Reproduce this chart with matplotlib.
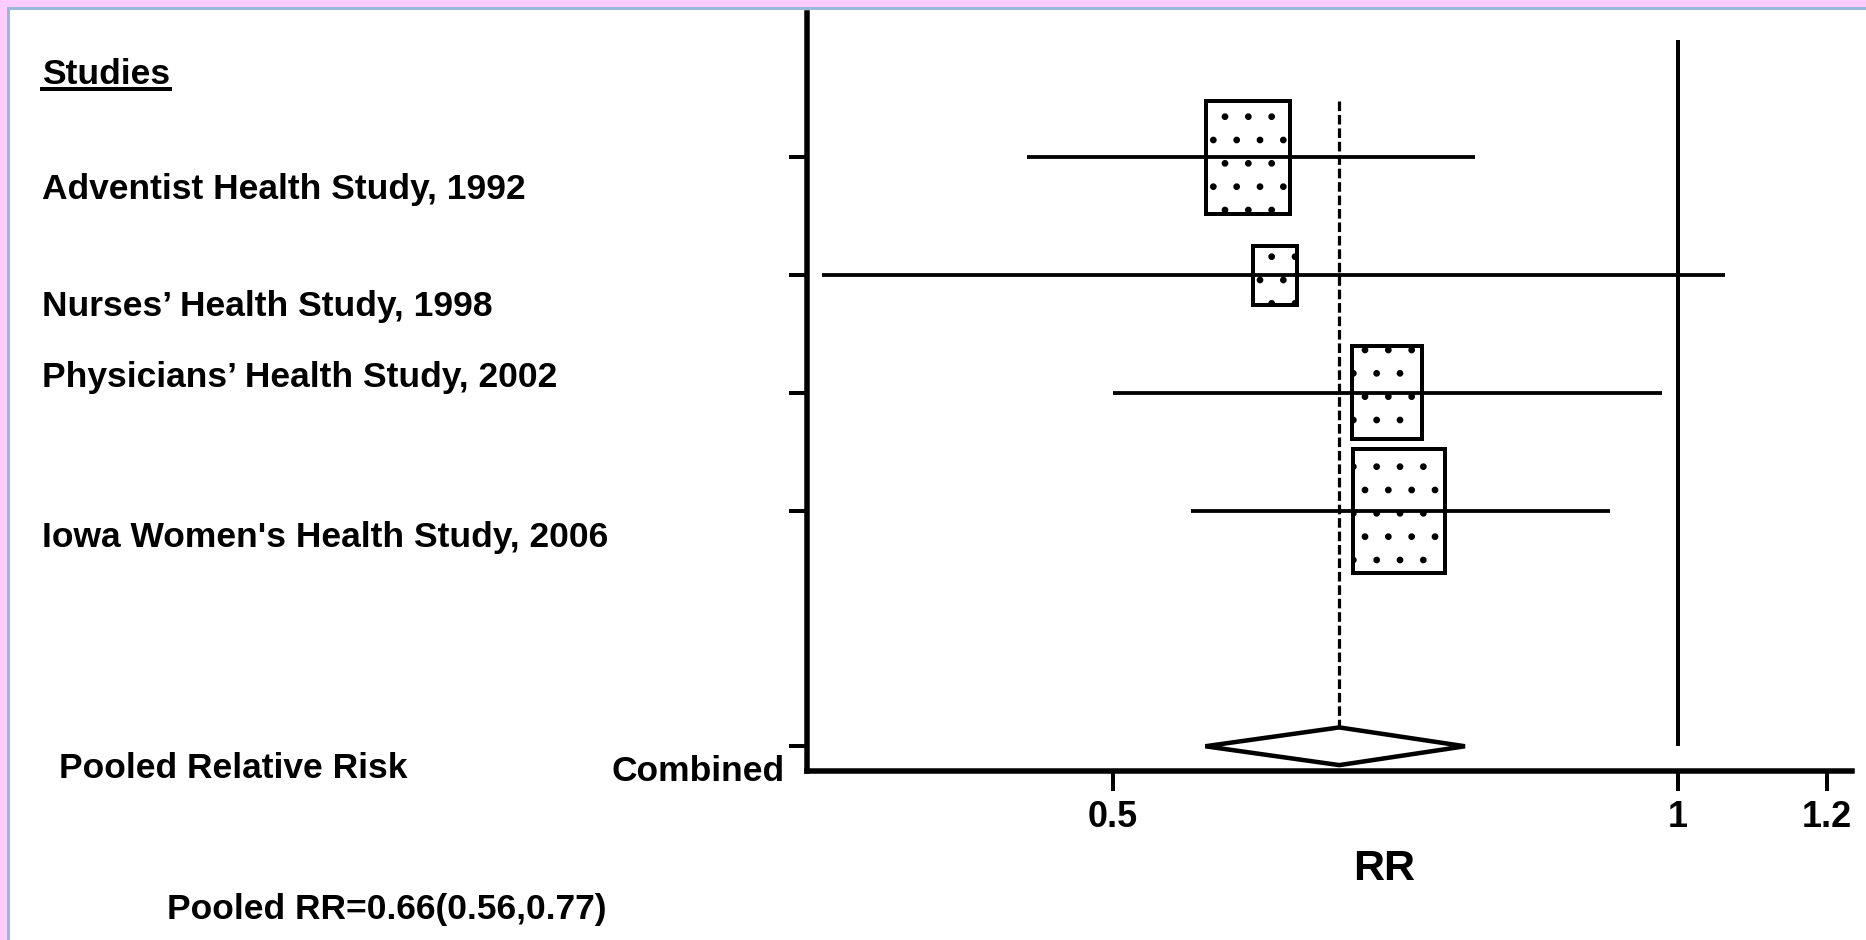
import numpy as np
import matplotlib
matplotlib.use("Agg")
import matplotlib.pyplot as plt
from matplotlib.patches import Rectangle, Polygon
from matplotlib.lines import Line2D
from matplotlib.transforms import ScaledTranslation

# ---------------- data ----------------
studies = ["Adventist Health Study, 1992",
           "Nurses\u2019 Health Study, 1998",
           "Physicians\u2019 Health Study, 2002",
           "Iowa Women's Health Study, 2006"]
rr = [0.59, 0.61, 0.70, 0.71]
ci_low = [0.45, 0.35, 0.50, 0.55]
ci_high = [0.78, 1.06, 0.98, 0.92]
weights = [0.96, 0.50, 0.79, 1.05]        # relative box size (study weight)
pooled_rr = 0.66
pooled_low = 0.56
pooled_high = 0.77
null_value = 1.0
xticks = [0.5, 1, 1.2]
xtick_labels = ["0.5", "1", "1.2"]
combined_label = "Combined"
header = "Studies"
pooled_title = "Pooled Relative Risk"
pooled_text = "Pooled RR=0.66(0.56,0.77)"
x_label = "RR"

# ---------------- style ----------------
DPI = 140                     # larger dpi -> sparser hatch dots


def P(px):
    """pixel size -> points at this dpi"""
    return px * 72.0 / DPI


FONT = 35.4                   # font em size in pixels
plt.rcParams["font.family"] = ["Liberation Sans", "DejaVu Sans"]
plt.rcParams["font.weight"] = "bold"
plt.rcParams["hatch.linewidth"] = P(2.0)

W, H = 1866, 940
fig = plt.figure(figsize=(W / DPI, H / DPI), dpi=DPI, facecolor="white")

# frame decoration (pink band + blue line on top and left)
pink = "#FFCCFF"
blue = "#9AB8DC"
fig.patches.append(Rectangle((0, 1 - 7 / H), 1, 7 / H, transform=fig.transFigure,
                             facecolor=pink, edgecolor="none", zorder=0))
fig.patches.append(Rectangle((0, 0), 7 / W, 1, transform=fig.transFigure,
                             facecolor=pink, edgecolor="none", zorder=0))
fig.patches.append(Rectangle((7 / W, 1 - 10 / H), 1, 3 / H, transform=fig.transFigure,
                             facecolor=blue, edgecolor="none", zorder=0))
fig.patches.append(Rectangle((7 / W, 0), 3 / W, 1 - 7 / H, transform=fig.transFigure,
                             facecolor=blue, edgecolor="none", zorder=0))

# axes placement (pixels)
ax_l, ax_r, ax_t, ax_b = 807, 1852, 13, 771
ax = fig.add_axes([ax_l / W, 1 - ax_b / H, (ax_r - ax_l) / W, (ax_b - ax_t) / H])
ax.set_facecolor("none")

n = len(studies)
rows = np.arange(1, n + 1)
combined_row = n + 2
box_aspect = 0.108     # box width (log units) per row-height unit
diamond_half = 0.16

# study boxes and CI lines
for i in range(n):
    h = weights[i]
    w = box_aspect * h
    x0 = rr[i] * np.exp(-w / 2)
    x1 = rr[i] * np.exp(w / 2)
    ax.add_patch(Rectangle((x0, rows[i] - h / 2), x1 - x0, h,
                           facecolor="white", edgecolor="black", lw=P(4),
                           hatch=".", zorder=2))
    ax.plot([ci_low[i], ci_high[i]], [rows[i], rows[i]], color="black",
            lw=P(3.8), solid_capstyle="butt", zorder=3)

# null line
ax.plot([null_value, null_value], [0, combined_row], color="black", lw=P(4),
        solid_capstyle="butt", zorder=1)

# pooled dashed line
top_dash = min(r - w / 2 for r, w in zip(rows, weights))
ax.plot([pooled_rr, pooled_rr], [top_dash, combined_row - diamond_half],
        color="black", lw=P(3.2), linestyle=(0, (3, 1.2)), zorder=1)

# pooled diamond
ax.add_patch(Polygon([[pooled_low, combined_row],
                      [pooled_rr, combined_row - diamond_half],
                      [pooled_high, combined_row],
                      [pooled_rr, combined_row + diamond_half]],
                     closed=True, facecolor="white", edgecolor="black",
                     lw=P(4.5), joinstyle="miter", zorder=3))

# axes formatting
fs = P(FONT)
ax.set_xscale("log")
ax.set_xlim(0.3435, 1.238)
ax.set_ylim(6.21, -0.225)
ax.minorticks_off()
ax.set_xticks(xticks)
ax.set_xticklabels(xtick_labels, fontsize=P(36), fontweight="bold")
ax.set_yticks(list(rows) + [combined_row])
ax.set_yticklabels([""] * n + [combined_label], fontsize=fs, fontweight="bold")
for s in ["top", "right"]:
    ax.spines[s].set_visible(False)
for s in ["left", "bottom"]:
    ax.spines[s].set_linewidth(P(5.5))
ax.tick_params(axis="x", length=P(20), width=P(4), pad=P(9), direction="out")
ax.tick_params(axis="y", length=P(18), width=P(4), pad=P(4), direction="out")
for lab in ax.get_yticklabels():
    lab.set_transform(lab.get_transform() +
                      ScaledTranslation(0, -22 / DPI, fig.dpi_scale_trans))

ax.set_xlabel(x_label, fontsize=P(43), fontweight="bold")
ax.xaxis.set_label_coords((1384 - ax_l) / (ax_r - ax_l), -(849 - ax_b) / (ax_b - ax_t))
ax.xaxis.label.set_va("top")

# left-hand text
t_header = fig.text(42 / W, 1 - 74 / H, header, fontsize=fs, fontweight="bold",
                    ha="left", va="center")
label_y = [190, 306, 377, 537]
for name, yy in zip(studies, label_y):
    fig.text(42 / W, 1 - yy / H, name, fontsize=fs, fontweight="bold",
             ha="left", va="center")
fig.text(59 / W, 1 - 768 / H, pooled_title, fontsize=fs, fontweight="bold",
         ha="left", va="center")
fig.text(167 / W, 1 - 909 / H, pooled_text, fontsize=fs, fontweight="bold",
         ha="left", va="center")

# underline the header
fig.canvas.draw()
bb = t_header.get_window_extent(fig.canvas.get_renderer())
uy = (bb.y0 + 2) / H
fig.add_artist(Line2D([bb.x0 / W, bb.x1 / W], [uy, uy], transform=fig.transFigure,
                      color="black", lw=P(4)))

fig.savefig("out.png", dpi=DPI, facecolor="white")
